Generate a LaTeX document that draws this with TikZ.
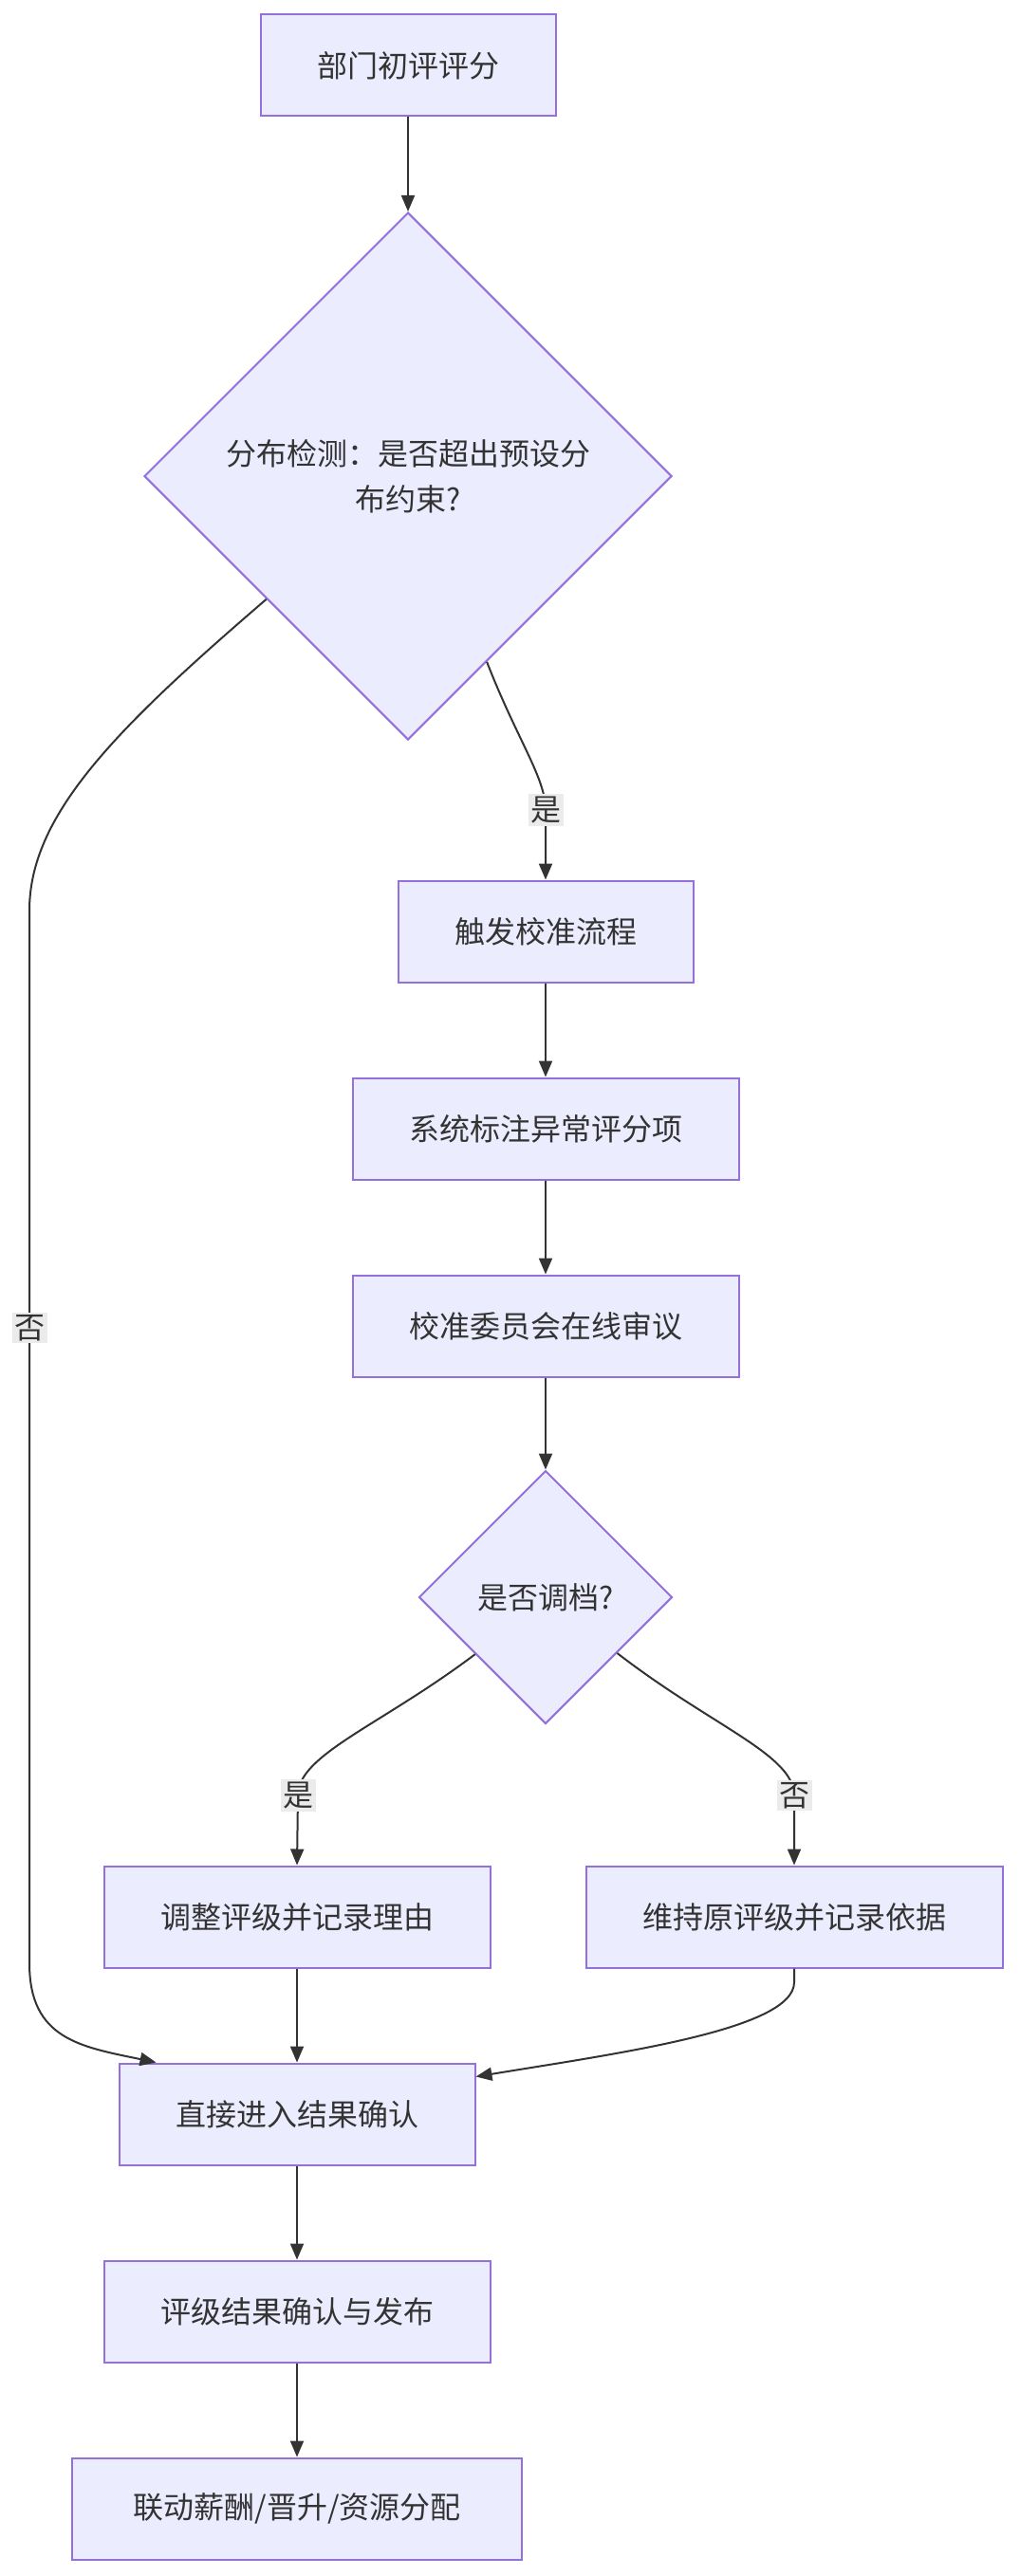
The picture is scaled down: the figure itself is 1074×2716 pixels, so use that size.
\documentclass[tikz,border=0pt]{standalone}
\usepackage{fontspec}
\setmainfont{Noto Sans CJK SC}
\usetikzlibrary{arrows.meta,shapes.geometric}
\definecolor{boxfill}{HTML}{ECECFF}
\definecolor{boxline}{HTML}{9370DB}
\definecolor{edgegray}{HTML}{333333}
\definecolor{tagfill}{HTML}{EBEBEB}
\begin{document}
\begin{tikzpicture}[
    x=1pt,y=-1pt,
    every node/.style={font=\fontsize{32}{48}\selectfont,text=edgegray},
    stepbox/.style={draw=boxline,fill=boxfill,line width=2pt,
        minimum height=107pt,inner xsep=59.5pt},
    decision/.style={diamond,draw=boxline,fill=boxfill,line width=2pt,
        aspect=1,align=center,inner sep=0pt},
    flow/.style={draw=edgegray,line width=2pt,
        -{Triangle[length=17pt,width=14pt]}},
    tag/.style={fill=tagfill,inner sep=2.5pt}]
    \useasboundingbox (0,0) rectangle (1074,2716);
    \node[stepbox] (score) at (430,69) {部门初评评分};
    \node[decision,minimum width=556pt,minimum height=556pt] (check) at (430,502)
        {分布检测：是否超出预设分\\布约束?};
    \node[stepbox] (trigger) at (575,982) {触发校准流程};
    \node[stepbox] (flag) at (575,1190) {系统标注异常评分项};
    \node[stepbox] (review) at (575,1398) {校准委员会在线审议};
    \node[decision,minimum width=267pt,minimum height=267pt] (adjust) at (575,1684)
        {是否调档?};
    \node[stepbox] (change) at (313,2021) {调整评级并记录理由};
    \node[stepbox] (keep) at (837,2021) {维持原评级并记录依据};
    \node[stepbox] (confirm) at (313,2229) {直接进入结果确认};
    \node[stepbox] (publish) at (313,2437) {评级结果确认与发布};
    \node[stepbox,inner xsep=64pt] (link) at (313,2645) {联动薪酬/晋升/资源分配};
    \foreach \a/\b in {score/check,trigger/flag,flag/review,review/adjust,
        change/confirm,confirm/publish,publish/link}
        \draw[flow] (\a) -- (\b);
    \draw[flow] (check.-67.5) .. controls (545,780) and (575,820) ..
        (575,854) node[tag] {是} -- (trigger.north);
    \draw[flow] (check.-139) .. controls (120,770) and (31,860) .. (31,960)
        -- (31,1400) node[tag] {否} -- (31,2070)
        .. controls (31,2150) and (85,2158) .. ([xshift=40pt]confirm.north west);
    \draw[flow] (adjust.-141) .. controls (400,1820) and (314,1850) ..
        (314,1893) node[tag] {是} -- (change.north);
    \draw[flow] (adjust.-38) .. controls (750,1820) and (837,1850) ..
        (837,1893) node[tag] {否} -- (keep.north);
    \draw[flow] (keep.south) -- (837,2090) .. controls (837,2140) and (650,2165) ..
        ([yshift=-15pt]confirm.north east);
\end{tikzpicture}
\end{document}
